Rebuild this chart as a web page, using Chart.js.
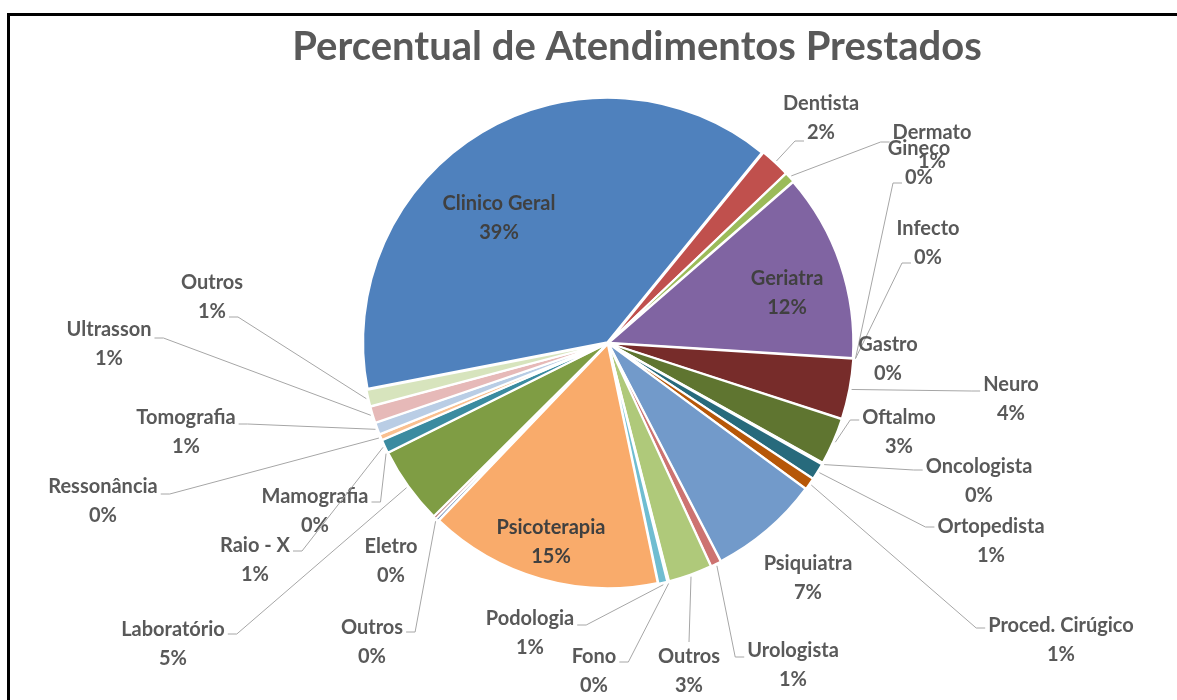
<!DOCTYPE html>
<html lang="pt-BR">
<head>
<meta charset="utf-8">
<title>Percentual de Atendimentos Prestados</title>
<script src="https://cdn.jsdelivr.net/npm/chart.js@4.4.0/dist/chart.umd.min.js"></script>
<style>
    html, body { margin: 0; padding: 0; background: #fff; }
    #wrap { position: relative; width: 1177px; height: 700px; overflow: hidden; }
    #wrap canvas { position: absolute; left: 0; top: 0; }
    #frame { position: absolute; left: 7px; top: 13px; right: -10px; bottom: -10px;
             border-top: 3px solid #000; border-left: 3px solid #000; pointer-events: none; }
</style>
</head>
<body>
<div id="wrap">
    <canvas id="pieChart" width="1177" height="700"></canvas>
    <div id="frame"></div>
</div>
<script>
// dados do gráfico
const titulo = 'Percentual de Atendimentos Prestados';
const categorias = [
    'Clinico Geral', 'Dentista', 'Dermato', 'Geriatra', 'Gineco', 'Infecto', 'Gastro',
    'Neuro', 'Oftalmo', 'Oncologista', 'Ortopedista', 'Proced. Cirúgico', 'Psiquiatra',
    'Urologista', 'Outros', 'Fono', 'Podologia', 'Psicoterapia', 'Outros', 'Eletro',
    'Laboratório', 'Mamografia', 'Raio - X', 'Ressonância', 'Tomografia', 'Ultrasson', 'Outros'
];
const valores = [
    38.9, 2.0, 0.7, 12.4, 0, 0, 0,
    4.0, 3.1, 0.1, 1.1, 0.8, 7.3,
    0.7, 2.9, 0.1, 0.6, 15.4, 0.2, 0.2,
    5.1, 0, 0.9, 0.4, 0.8, 1.1, 1.1
];
const cores = [
    '#4F81BD', '#C0504D', '#9BBB59', '#8064A2', '#4BACC6', '#F79646', '#2C4D75',
    '#772C2A', '#5F7530', '#4D3B62', '#276A7C', '#B65708', '#729ACA',
    '#CD7371', '#AFC97A', '#9983B5', '#6FBDD1', '#F9AB6B', '#3F67A0', '#9A3E3C',
    '#7F9D44', '#664F82', '#3B8BA0', '#FAC090', '#B9CDE5', '#E6B9B8', '#D7E4BD'
];

// posição dos rótulos: [x, y da 1a linha, y da linha guia | 'in' | 'top' | null]
const posRotulos = [
    [499, 204, 'in'], [821, 104, 141], [932, 133, 142], [787, 279, 'in'], [919, 149, 183],
    [928, 229, 263], [888, 345, null], [1011, 385, 391], [899, 418, 420], [979, 467, 470],
    [991, 527, 527], [1061, 626, 628], [808, 564, null], [793, 651, 657], [689, 657, 'top'],
    [594, 657, 662], [530, 619, 625], [551, 528, 'in'], [372, 628, 632], [391, 547, null],
    [173, 630, 634], [315, 497, 502], [255, 546, 551], [103, 487, 494], [186, 418, 424],
    [109, 330, 338], [212, 283, 317]
];
const ALT_LINHA = 29;
const FONTE = 'Lato, "Open Sans", sans-serif';

const rotulosPlugin = {
    id: 'rotulos',
    afterDatasetsDraw(chart) {
        const ctx = chart.ctx;
        const meta = chart.getDatasetMeta(0);
        const total = valores.reduce((a, b) => a + b, 0);
        ctx.save();
        ctx.font = 'bold 20px ' + FONTE;
        ctx.textAlign = 'center';
        ctx.textBaseline = 'middle';
        meta.data.forEach((arc, i) => {
            const p = arc.getProps(['x', 'y', 'startAngle', 'endAngle', 'outerRadius'], true);
            const [lx, ly, ancora] = posRotulos[i];
            const nome = categorias[i];
            const pct = Math.round(valores[i] / total * 100) + '%';
            // linha guia
            if (typeof ancora === 'number' || ancora === 'top') {
                const mid = (p.startAngle + p.endAngle) / 2;
                const r = p.outerRadius + (arc.options.offset || 0);
                const sx = p.x + Math.cos(mid) * r;
                const sy = p.y + Math.sin(mid) * r;
                ctx.beginPath();
                ctx.strokeStyle = '#A6A6A6';
                ctx.lineWidth = 1;
                ctx.moveTo(sx, sy);
                if (ancora === 'top') {
                    ctx.lineTo(lx, ly - 15);
                } else {
                    const usaPct = Math.abs(ancora - (ly + ALT_LINHA)) < Math.abs(ancora - ly);
                    const w = ctx.measureText(usaPct ? pct : nome).width;
                    const dir = lx > sx ? -1 : 1;
                    const ex = lx + dir * (w / 2 + 3);
                    ctx.lineTo(ex + dir * 9, ancora);
                    ctx.lineTo(ex, ancora);
                }
                ctx.stroke();
            }
            ctx.fillStyle = ancora === 'in' ? '#404040' : '#595959';
            ctx.fillText(nome, lx, ly);
            ctx.fillText(pct, lx, ly + ALT_LINHA);
        });
        // título
        let tam = 34;
        ctx.font = 'bold ' + tam + 'px ' + FONTE;
        tam = tam * 689 / ctx.measureText(titulo).width;
        ctx.font = 'bold ' + tam.toFixed(1) + 'px ' + FONTE;
        ctx.fillStyle = '#595959';
        ctx.fillText(titulo, 637, 47);
        ctx.restore();
    }
};

document.addEventListener('DOMContentLoaded', () => {
    const ctx = document.getElementById('pieChart');
    new Chart(ctx.getContext('2d'), {
        type: 'pie',
        data: {
            labels: categorias,
            datasets: [{
                data: valores,
                backgroundColor: cores,
                borderColor: '#ffffff',
                borderWidth: 2,
                offset: 4
            }]
        },
        options: {
            responsive: false,
            animation: false,
            rotation: 259,
            radius: 244,
            layout: { padding: { left: 39, right: 0, top: 0, bottom: 14 } },
            plugins: {
                legend: { display: false },
                tooltip: { enabled: false }
            }
        },
        plugins: [rotulosPlugin]
    });
});
</script>
</body>
</html>
